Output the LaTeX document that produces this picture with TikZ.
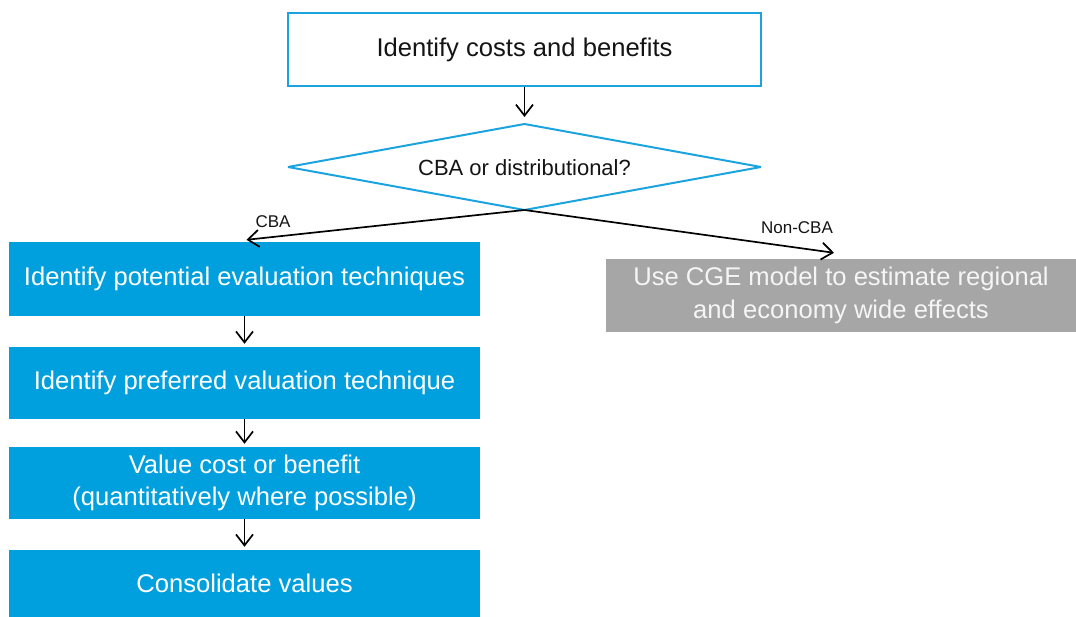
\documentclass[tikz,border=0pt]{standalone}
\usepackage{fontspec}
\setmainfont{Liberation Sans}
\usetikzlibrary{arrows.meta,calc}
\definecolor{flowblue}{RGB}{0,160,222}
\definecolor{lineblue}{RGB}{27,163,224}
\definecolor{sidegrey}{RGB}{166,166,166}
\definecolor{paletext}{RGB}{245,245,245}
\definecolor{inktext}{RGB}{20,20,20}
\tikzset{
  x=1pt, y=-1pt,
  bigtext/.style={font=\fontsize{25.6}{32.5}\selectfont, align=center},
  outlinebox/.style={draw=lineblue, line width=2pt, fill=white, bigtext, text=inktext,
    minimum width=473pt, minimum height=73pt, inner sep=0pt},
  stepbox/.style={fill=flowblue, bigtext, text=white, minimum width=471pt, inner sep=0pt},
  greybox/.style={fill=sidegrey, bigtext, text=paletext, minimum width=470pt,
    minimum height=73pt, inner sep=0pt},
  choiceline/.style={draw=lineblue, line width=2pt, line join=bevel},
  choicetext/.style={text=inktext, font=\fontsize{22}{26}\selectfont, inner sep=0pt},
  flowarrow/.style={draw=black, line width=1.7pt, -{Straight Barb[length=11pt,width=17pt,line width=1.7pt]}},
  branchlabel/.style={font=\fontsize{17}{20}\selectfont, text=inktext, inner sep=0pt},
}
\begin{document}
\begin{tikzpicture}
\useasboundingbox (0,0) rectangle (1076,617);

% top task
\node[outlinebox] (identify) at (524.5,49.5) {Identify costs and benefits};

% decision diamond
\coordinate (dtop) at (524.5,124);
\coordinate (dright) at (761,167);
\coordinate (dbottom) at (524.5,210);
\coordinate (dleft) at (288,167);
\draw[choiceline] (dtop) -- (dright) -- (dbottom) -- (dleft) -- cycle;
\node[choicetext] (decide) at (524.5,168) {CBA or distributional?};

% left column of steps
\node[stepbox, minimum height=74pt] (techniques) at (244.5,279) {Identify potential evaluation techniques};
\node[stepbox, minimum height=72pt] (preferred) at (244.5,383) {Identify preferred valuation technique};
\node[stepbox, minimum height=72pt] (value) at (244.5,483) {Value cost or benefit\\(quantitatively where possible)};
\node[stepbox, minimum height=67pt] (consolidate) at (244.5,583.5) {Consolidate values};

% right branch
\node[greybox] (cge) at (841,295.5) {Use CGE model to estimate regional\\and economy wide effects};

% branch end points
\coordinate (cbaend) at ($(techniques.north)+(2,-2)$);
\coordinate (noncbaend) at ($(cge.north)+(-7,-6)$);

% connectors
\draw[flowarrow] (identify.south) -- ($(dtop)+(0,-7)$);
\draw[flowarrow] (dbottom) -- (cbaend);
\draw[flowarrow] (dbottom) -- (noncbaend);
\draw[flowarrow] (techniques.south) -- ($(preferred.north)+(0,-3)$);
\draw[flowarrow] (preferred.south) -- ($(value.north)+(0,-3)$);
\draw[flowarrow] (value.south) -- ($(consolidate.north)+(0,-3)$);

% branch labels
\node[branchlabel] (cbalabel) at (273,221.5) {CBA};
\node[branchlabel] (noncbalabel) at (797,227.5) {Non-CBA};
\end{tikzpicture}
\end{document}
